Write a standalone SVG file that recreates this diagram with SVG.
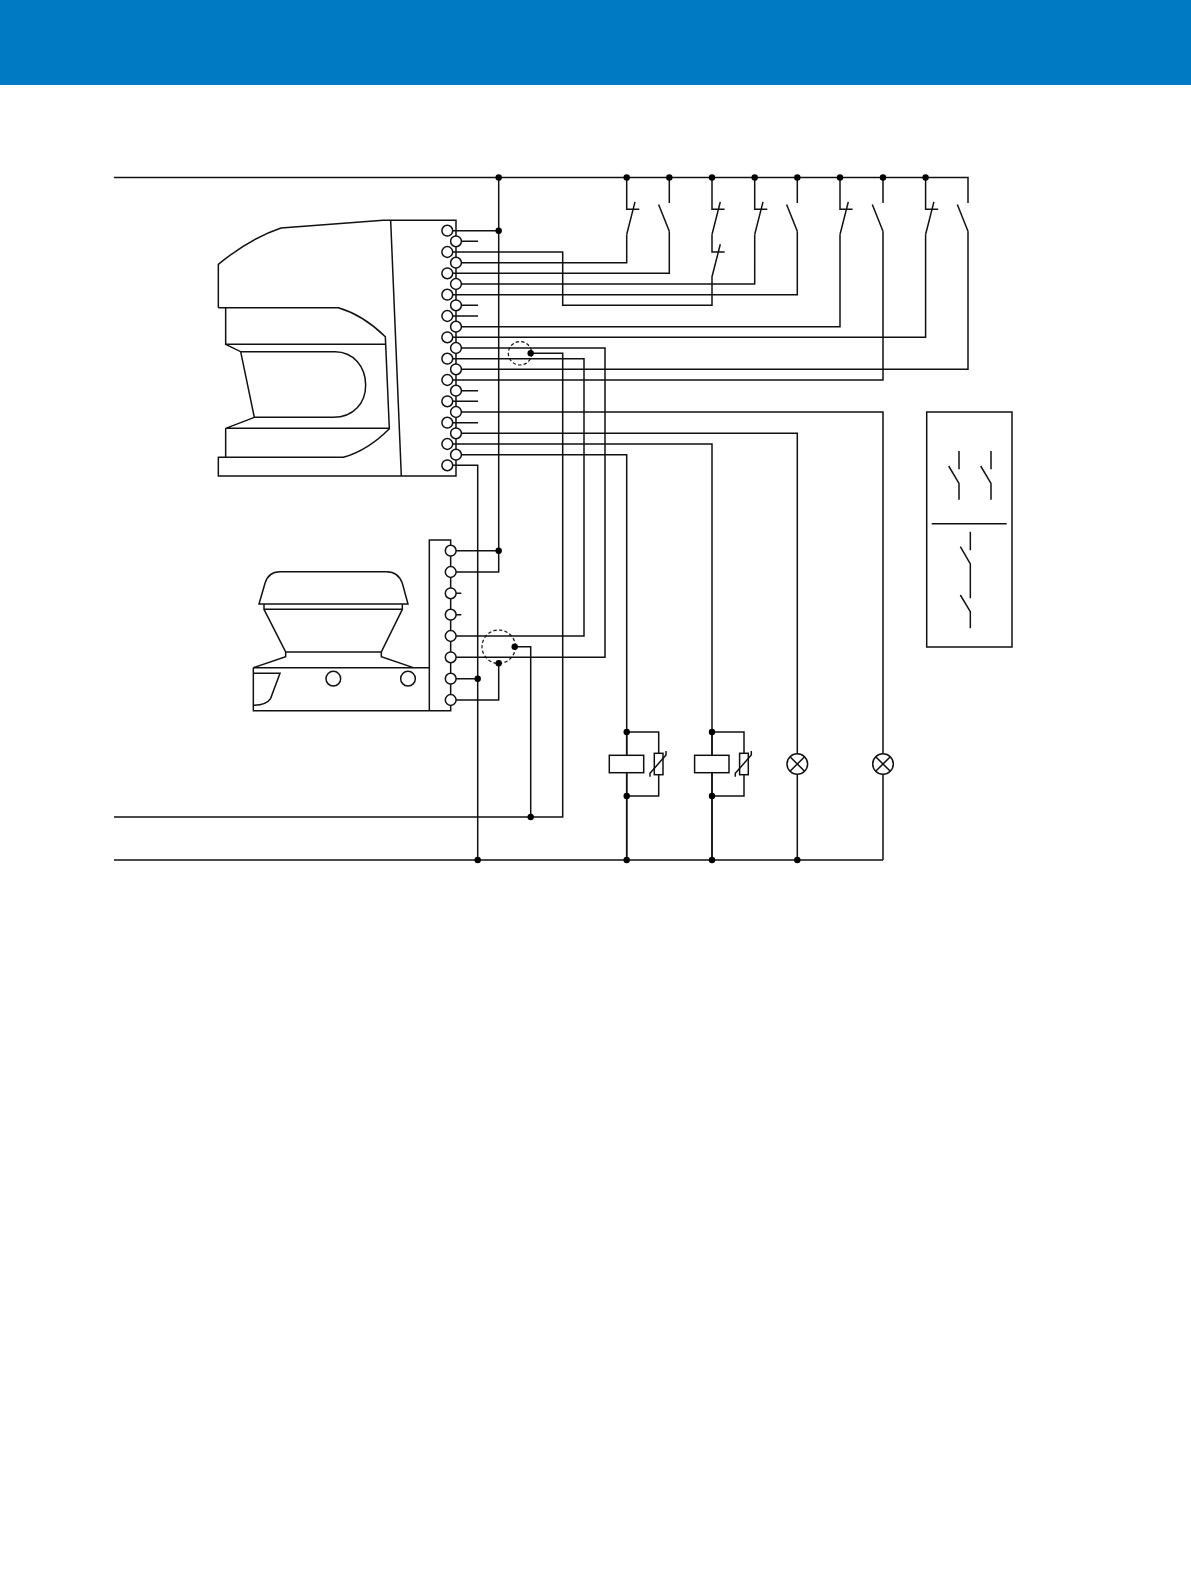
<svg xmlns="http://www.w3.org/2000/svg" width="1191" height="1584" viewBox="0 0 1191 1584">
<style>
.w{fill:none;stroke:#111;stroke-width:1.5}
.z{fill:none;stroke:#111;stroke-width:4.5}
.t{fill:#fff;stroke:#111;stroke-width:1.5}
.d{fill:#000;stroke:none}
.da{fill:none;stroke:#111;stroke-width:1.2;stroke-dasharray:3.4 2.2}
.f{fill:#fff;stroke:#111;stroke-width:1.5}
</style>
<defs>
<circle id="dot" class="d" r="3.2"/>
<circle id="term" class="t" r="5.4"/>
<path id="nc" class="w" d="M0 0V31.7H12.6M8.3 24.4L0 57"/>
<path id="no" class="w" d="M0 0V25.4M-10.7 27L0 53.7"/>
<g id="relay">
<path class="w" d="M0 0V128M0 0H32V64H0"/>
<rect class="f" x="-17.4" y="23.3" width="34.4" height="17.4"/>
<rect class="f" x="27.6" y="21.3" width="8.7" height="21.4"/>
<path class="w" d="M23.3 44.7V41.3L39.3 23V19"/>
<use href="#dot" x="0" y="0"/><use href="#dot" x="0" y="64"/><use href="#dot" x="0" y="128"/>
</g>
<g id="lamp"><circle class="f" r="10.3"/><path class="w" d="M-7.3 -7.3L7.3 7.3M-7.3 7.3L7.3 -7.3"/></g>
</defs>
<rect id="header" x="0" y="0" width="1191" height="85" fill="#007ac2"/>

<g id="scanner" transform="translate(200 160) scale(0.33333)">
<path class="z" d="M55 443V313Q150 235 243 204L550 181H768V948H55V892H430Q505 870 568 806L556 530Q490 465 415 443H55"/>
<path class="z" d="M572 181L604 948M77 443V553H556M77 553L122 575L163 772L77 805H568M77 805V892"/>
<path class="z" d="M122 575H405C460 575 497 620 497 675C497 730 460 772 400 772H163"/>
</g>

<g id="detector" transform="translate(230 520) scale(0.33333)">
<path class="z" d="M87 252L105 190Q115 155 150 155H470Q505 155 517 190L534 252Z"/>
<path class="z" d="M102 252V268H517V252M102 268L167 396V410L70 443M517 268L454 396V410L550 443M167 396H454"/>
<path class="z" d="M70 443H598M70 443V572H662V60H598V572"/>
<circle class="z" cx="310" cy="476" r="22"/><circle class="z" cx="534" cy="476" r="22"/>
<path class="z" d="M70 460H150L122 535Q110 555 70 556"/>
</g>

<g id="connectors">
<path class="w" d="M114 177.5H968V203M498.7 177.5V572H450.7M450.7 550.7H498.7"/>
<path class="w" d="M456 230.7H498.7M456 241.3H478M456 252H562.7V305.3H712V276.7L720.3 244.3M712 234.5V252H724.7M456 262.7H626.7V234.5M456 273.3H669.3V231.2M456 284H754.7V234.5M456 294.7H797.3V231.2"/>
<path class="w" d="M456 305.3H478M456 316H478M456 326.7H840V234.5M456 337.3H925.6V234.5M456 348H605V657.3H450.7M456 358.7H584V636H450.7M456 369.3H968V231.2M456 380H883V231.2"/>
<path class="w" d="M456 390.7H478M456 401.3H478M456 412H883V860M456 422.7H478M456 433.3H797.3V860M456 444H712V860M456 454.7H626.7V860M456 465.3H477.7V860"/>
<path class="w" d="M114 860H883M114 817H562.7V353.3H530.7M530.7 817V646.7H514.7M498.7 663.3V700H450.7M450.7 678.7H477.7"/>
<path class="w" d="M450.7 593.3H461.3M450.7 614.7H461.3"/>
<circle class="da" cx="520" cy="353.3" r="11.7"/>
<circle class="da" cx="498.7" cy="646.7" r="16.7"/>
<g>
<use href="#nc" x="626.7" y="177.5"/>
<use href="#no" x="669.3" y="177.5"/>
<use href="#nc" x="712" y="177.5"/>
<use href="#nc" x="754.7" y="177.5"/>
<use href="#no" x="797.3" y="177.5"/>
<use href="#nc" x="840" y="177.5"/>
<use href="#no" x="883" y="177.5"/>
<use href="#nc" x="925.6" y="177.5"/>
<path class="w" d="M957.3 204.5L968 231.2"/>
</g>
<g>
<use href="#dot" x="498.7" y="177.5"/><use href="#dot" x="626.7" y="177.5"/><use href="#dot" x="669.3" y="177.5"/><use href="#dot" x="712" y="177.5"/><use href="#dot" x="754.7" y="177.5"/><use href="#dot" x="797.3" y="177.5"/><use href="#dot" x="840" y="177.5"/><use href="#dot" x="883" y="177.5"/><use href="#dot" x="925.6" y="177.5"/>
<use href="#dot" x="498.7" y="230.7"/><use href="#dot" x="530.7" y="353.3"/><use href="#dot" x="498.7" y="550.7"/><use href="#dot" x="514.7" y="646.7"/><use href="#dot" x="498.7" y="663.3"/><use href="#dot" x="477.7" y="678.7"/>
<use href="#dot" x="530.7" y="817"/><use href="#dot" x="477.7" y="860"/><use href="#dot" x="797.3" y="860"/>
</g>
</g>

<g id="relay1"><use href="#relay" x="626.7" y="732"/></g>
<g id="relay2"><use href="#relay" x="712" y="732"/></g>
<g id="lamp1"><use href="#lamp" x="797.3" y="764"/></g>
<g id="lamp2"><use href="#lamp" x="883" y="764"/></g>

<g id="scanner-terminals">
<path class="w" d="M447.5 230.7H456M447.5 252H456M447.5 273.3H456M447.5 294.7H456M447.5 316H456M447.5 337.3H456M447.5 358.7H456M447.5 380H456M447.5 401.3H456M447.5 422.7H456M447.5 444H456M447.5 465.3H456"/>
<use href="#term" x="447.3" y="230.7"/><use href="#term" x="456" y="241.3"/><use href="#term" x="447.3" y="252"/><use href="#term" x="456" y="262.7"/><use href="#term" x="447.3" y="273.3"/><use href="#term" x="456" y="284"/><use href="#term" x="447.3" y="294.7"/><use href="#term" x="456" y="305.3"/><use href="#term" x="447.3" y="316"/><use href="#term" x="456" y="326.7"/><use href="#term" x="447.3" y="337.3"/><use href="#term" x="456" y="348"/><use href="#term" x="447.3" y="358.7"/><use href="#term" x="456" y="369.3"/><use href="#term" x="447.3" y="380"/><use href="#term" x="456" y="390.7"/><use href="#term" x="447.3" y="401.3"/><use href="#term" x="456" y="412"/><use href="#term" x="447.3" y="422.7"/><use href="#term" x="456" y="433.3"/><use href="#term" x="447.3" y="444"/><use href="#term" x="456" y="454.7"/><use href="#term" x="447.3" y="465.3"/>
</g>
<g id="detector-terminals">
<use href="#term" x="450.7" y="550.7"/><use href="#term" x="450.7" y="572"/><use href="#term" x="450.7" y="593.3"/><use href="#term" x="450.7" y="614.7"/><use href="#term" x="450.7" y="636"/><use href="#term" x="450.7" y="657.3"/><use href="#term" x="450.7" y="678.7"/><use href="#term" x="450.7" y="700"/>
</g>

<g id="legend">
<rect class="w" x="926.7" y="412" width="85.3" height="235"/>
<path class="w" d="M931.7 523.7H1006.7"/>
<g transform="translate(915 400) scale(0.33333)"><path class="z" d="M132 153V208M101 198L132 250V299M228 153V208M197 198L228 250V299M166 395V451M136 440L166 492V595M136 585L166 635V685"/></g>
</g>
</svg>
